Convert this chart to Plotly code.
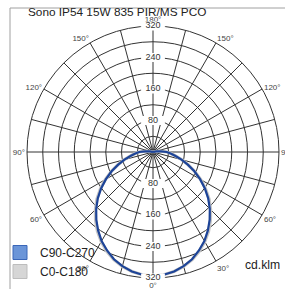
import plotly.graph_objects as go

# ---- data ----
gamma = [0, 5, 10, 15, 20, 25, 30, 35, 40, 45, 50, 55, 60, 65, 70, 75, 80, 85, 90,
         95, 100, 105, 110, 120, 130, 140, 150, 160, 170, 180]
c90_c270 = [315, 313, 308, 300, 290, 276, 261, 243, 224, 204, 183, 161, 138, 116, 94, 75, 58, 45, 35,
            20, 8, 2, 0, 0, 0, 0, 0, 0, 0, 0]
c0_c180 = [315, 313, 308, 301, 291, 278, 263, 246, 227, 207, 186, 163, 140, 117, 95, 76, 59, 46, 36,
           21, 8, 2, 0, 0, 0, 0, 0, 0, 0, 0]
series_names = ["C90-C270", "C0-C180"]
radial_grid = [40, 80, 120, 160, 200, 240, 280, 320]
radial_labels = [80, 160, 240, 320]
angle_ticks = list(range(0, 360, 15))
title_text = "Sono IP54 15W 835 PIR/MS PCO"
unit_text = "cd.klm"


def full_curve(vals):
    th = [360 - g for g in reversed(gamma)] + gamma[1:]
    rr = list(reversed(vals)) + vals[1:]
    return th, rr


def angle_label(t):
    if t % 30 != 0:
        return ""
    return f"{min(t, 360 - t)}°"


fig = go.Figure()

th, rr = full_curve(c0_c180)
fig.add_trace(go.Scatterpolar(theta=th, r=rr, mode="lines",
                              line=dict(color="#c4c4c4", width=3.2),
                              showlegend=False, hoverinfo="skip"))
th, rr = full_curve(c90_c270)
fig.add_trace(go.Scatterpolar(theta=th, r=rr, mode="lines",
                              line=dict(color="#1d4498", width=2.2),
                              showlegend=False, hoverinfo="skip"))

# white boxes behind radial labels (top and bottom)
lab_theta = [180] * len(radial_labels) + [0] * len(radial_labels)
lab_r = radial_labels + radial_labels
fig.add_trace(go.Scatterpolar(theta=lab_theta, r=lab_r, mode="markers",
                              marker=dict(symbol="line-ew", size=17,
                                          line=dict(color="white", width=9)),
                              showlegend=False, hoverinfo="skip"))
fig.add_trace(go.Scatterpolar(theta=lab_theta, r=lab_r, mode="text",
                              text=[str(v) for v in lab_r],
                              textfont=dict(family="Liberation Sans, Arial", size=9, color="#333"),
                              showlegend=False, hoverinfo="skip"))

# legend entries
fig.add_trace(go.Scatterpolar(theta=[None], r=[None], mode="markers", name=series_names[0],
                              marker=dict(symbol="square", size=14, color="#6b95d8",
                                          line=dict(color="#3a66b8", width=1))))
fig.add_trace(go.Scatterpolar(theta=[None], r=[None], mode="markers", name=series_names[1],
                              marker=dict(symbol="square", size=14, color="#d6d6d6",
                                          line=dict(color="#bdbdbd", width=1))))

fig.update_layout(
    width=285, height=289,
    margin=dict(l=0, r=0, t=0, b=0),
    paper_bgcolor="white",
    font=dict(family="Liberation Sans, Arial", color="#222"),
    title=dict(text=title_text, x=28 / 285, xanchor="left", xref="paper",
               y=1 - 8 / 289, yanchor="top", yref="paper",
               font=dict(size=11.8, color="#222", family="Liberation Sans, Arial")),
    polar=dict(
        domain=dict(x=[27 / 285, 279 / 285], y=[1 - 278 / 289, 1 - 26 / 289]),
        bgcolor="white",
        radialaxis=dict(range=[0, 320], tickvals=radial_grid, showticklabels=False,
                        ticks="", showline=False, gridcolor="#333", gridwidth=1,
                        layer="below traces"),
        angularaxis=dict(rotation=270, direction="counterclockwise",
                         tickvals=angle_ticks, ticktext=[angle_label(t) for t in angle_ticks],
                         ticks="", showline=True, linecolor="#333", linewidth=1,
                         gridcolor="#333", gridwidth=1, layer="below traces",
                         tickfont=dict(size=8, color="#444", family="Liberation Sans, Arial")),
    ),
    legend=dict(x=0, xanchor="left", y=1 - 238 / 289, yanchor="top",
                bgcolor="rgba(0,0,0,0)", font=dict(size=12, color="#222"),
                itemwidth=30, tracegroupgap=0),
    shapes=[dict(type="rect", xref="paper", yref="paper",
                 x0=10 / 285, x1=1.2, y0=-0.2, y1=1 - 8 / 289,
                 line=dict(color="#a0a0a0", width=1), layer="below")],
    annotations=[dict(text=unit_text, xref="paper", yref="paper",
                      x=282 / 285, y=1 - 265 / 289, xanchor="right", yanchor="middle",
                      showarrow=False, font=dict(size=12.2, color="#222"))],
)

fig.write_html("out.html", config={"displayModeBar": False},
               post_script="document.body.style.margin='0';document.body.style.overflow='hidden';")
